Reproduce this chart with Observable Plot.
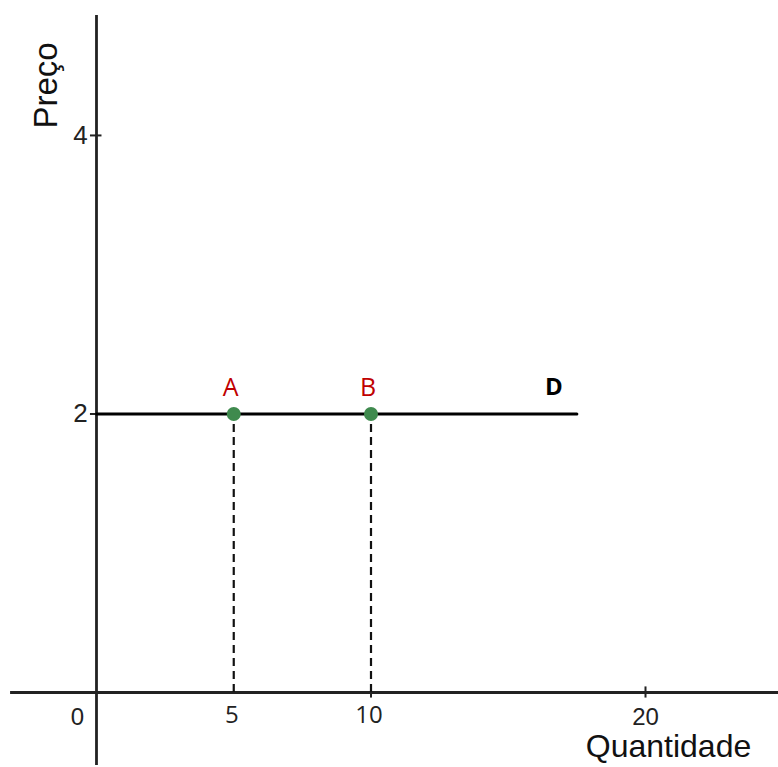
<!DOCTYPE html>
<html>
<head>
<meta charset="utf-8">
<script src="https://cdn.jsdelivr.net/npm/d3@7"></script>
<script src="https://cdn.jsdelivr.net/npm/@observablehq/plot@0.6"></script>
<style>
  html, body { margin: 0; padding: 0; background: #fff; }
</style>
</head>
<body>
<div id="chart"></div>
<script>
// Data
const points = [
  {label: "A", q: 5, p: 2},
  {label: "B", q: 10, p: 2}
];
const demand = [{q: 0, p: 2}, {q: 17.5, p: 2}];
const demandLabel = "D";
const xTicks = [10, 20];
const originLabel = [{v: 0, t: "0"}];
const xTickLabelsA = [{v: 20, t: "20"}];
const xTickLabelsB = [{v: 5, t: "5"}, {v: 10, t: "10"}];
const yTicks = [4, 2];
const yTickLabels = [{v: 4, t: "4"}, {v: 2, t: "2"}];
const xTitle = "Quantidade";
const yTitle = "Preço";

// Axis extents (data units)
const xAxisRange = [-3.13, 24.85];
const yAxisRange = [-0.524, 4.862];

const W = 778, H = 767;
const axisColor = "#222";
const sans = "Liberation Sans, Arial, sans-serif";
const sans2 = "Open Sans, sans-serif";

const chart = Plot.plot({
  width: W,
  height: H,
  margin: 0,
  x: {domain: [-3.497, 24.845], axis: null},
  y: {domain: [-0.5386, 4.969], axis: null},
  style: {background: "#fff"},
  marks: [
    // axes
    Plot.ruleY([0], {x1: xAxisRange[0], x2: xAxisRange[1], stroke: axisColor, strokeWidth: 2.8}),
    Plot.ruleX([0], {y1: yAxisRange[0], y2: yAxisRange[1], stroke: axisColor, strokeWidth: 2.8}),
    // ticks
    Plot.ruleX(xTicks, {y1: -0.04, y2: 0.04, stroke: axisColor, strokeWidth: 2}),
    Plot.ruleY(yTicks, {x1: -0.22, x2: 0.2, stroke: axisColor, strokeWidth: 2}),
    // tick labels
    Plot.text(originLabel, {x: "v", y: 0, text: "t", dx: -19, dy: 25, fontSize: 24, fontFamily: sans, fill: "#222"}),
    Plot.text(xTickLabelsA, {x: "v", y: 0, text: "t", dy: 25, fontSize: 24, fontFamily: sans, fill: "#222"}),
    Plot.text(xTickLabelsB, {x: "v", y: 0, text: "t", dx: -2, dy: 23, fontSize: 24, fontFamily: sans2, fill: "#222"}),
    Plot.text(yTickLabels, {x: 0, y: "v", text: "t", dx: -16, dy: 0, fontSize: 26, fontFamily: sans, fill: "#222"}),
    // axis titles
    Plot.text([xTitle], {x: 20, y: 0, text: d => d, dx: 23, dy: 54, fontSize: 32, fontFamily: sans, fill: "#111"}),
    Plot.text([yTitle], {x: 0, y: 4, text: d => d, dx: -50, dy: -50, rotate: -90, fontSize: 33, fontFamily: sans, fill: "#111"}),
    // dashed drop lines
    Plot.ruleX(points, {x: "q", y1: 0, y2: "p", stroke: "#111", strokeWidth: 2.2, strokeDasharray: "8,5"}),
    // demand line
    Plot.line(demand, {x: "q", y: "p", stroke: "#000", strokeWidth: 3}),
    // points
    Plot.dot(points, {x: "q", y: "p", r: 7, fill: "#3f8a4e", stroke: "none"}),
    // point labels
    Plot.text(points, {x: "q", y: "p", text: "label", dx: -3, dy: -26, fontSize: 25, fontFamily: sans2, fill: "#c00000"}),
    Plot.text([demand[demand.length - 1]], {x: "q", y: "p", text: () => demandLabel, dx: -23, dy: -27, fontSize: 24, fontWeight: "bold", fontFamily: sans2, fill: "#000"})
  ]
});
document.getElementById("chart").appendChild(chart);
</script>
</body>
</html>
